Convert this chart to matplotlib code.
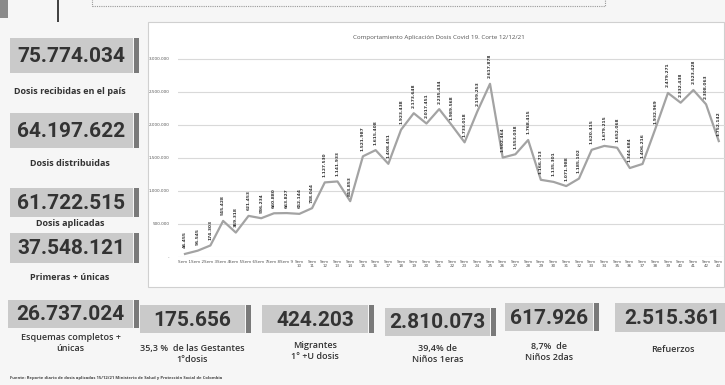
import matplotlib
matplotlib.use("Agg")
import matplotlib.pyplot as plt
from matplotlib.patches import Rectangle

# weekly applied doses
weeks = [f"Sem {i}" if i < 10 else f"Sem\n{i}" for i in range(1, 44)]
doses = [46455, 95545, 174303, 545428, 369318, 621453, 586234, 660880, 663827,
         652144, 738044, 1127530, 1141933, 843853, 1521987, 1615408, 1408451,
         1923438, 2173648, 2017451, 2235434, 1989568, 1733018, 2199253, 2617878,
         1502464, 1553038, 1768415, 1166713, 1135301, 1071988, 1185102, 1620415,
         1679215, 1652068, 1344684, 1406216, 1932969, 2479271, 2332438, 2523428,
         2308063, 1752142]
yticks = [0, 500000, 1000000, 1500000, 2000000, 2500000, 3000000]

# summary boxes
left_values = ["75.774.034", "64.197.622", "61.722.515", "37.548.121"]
left_labels = ["Dosis recibidas en el país", "Dosis distribuidas",
               "Dosis aplicadas", "Primeras + únicas"]
bottom_values = ["26.737.024", "175.656", "424.203", "2.810.073", "617.926", "2.515.361"]
bottom_labels = ["Esquemas completos +\núnicas", "35,3 %  de las Gestantes\n1°dosis",
                 "Migrantes\n1° +U dosis", "39,4% de\nNiños 1eras",
                 "8,7%  de\nNiños 2das", "Refuerzos"]
source = ("Fuente: Reporte diario de dosis aplicadas 15/12/21 Ministerio de Salud "
          "y Protección Social de Colombia")

W, H = 725, 385
fig = plt.figure(figsize=(W / 100, H / 100), dpi=100)
fig.patch.set_facecolor("#f6f6f6")

NUMFONT = ["Roboto", "DejaVu Sans"]
LBLFONT = ["Open Sans", "DejaVu Sans"]


def rect(x0, y0, x1, y1, **kw):
    fig.patches.append(Rectangle((x0 / W, 1 - y1 / H), (x1 - x0) / W, (y1 - y0) / H,
                                 transform=fig.transFigure, **kw))


def text(x, y, s, **kw):
    fig.text(x / W, 1 - y / H, s, **kw)


def stat_box(x0, y0, x1, y1, value, bar=True, size=15):
    rect(x0, y0, x1, y1, facecolor="#cacaca", edgecolor="none")
    if bar:
        rect(x1 + 1, y0, x1 + 6, y1, facecolor="#7a7a7a", edgecolor="none")
    text((x0 + x1) / 2, (y0 + y1) / 2 + 1, value, ha="center", va="center",
         fontsize=size, fontweight="bold", color="#333333", family=NUMFONT)


# top decorations
rect(0, 0, 8, 18, facecolor="#8a8a8a", edgecolor="none")
rect(57, 0, 59, 22, facecolor="#444444", edgecolor="none")
rect(92, -5, 605, 6, facecolor="none", edgecolor="#999999", linewidth=0.8, linestyle=(0, (1, 1)))

# left column
left_pos = [(38, 73, 92), (113, 148, 163), (188, 217, 224), (233, 263, 277)]
for (y0, y1, ly), v, lab in zip(left_pos, left_values, left_labels):
    stat_box(10, y0, 133, y1, v)
    text(70, ly, lab, ha="center", va="center", fontsize=6.5, fontweight="bold",
         color="#333333", family=LBLFONT)

# bottom row
bottom_pos = [(8, 133, 300, 328, 343), (140, 245, 305, 333, 354), (262, 368, 305, 333, 351),
              (385, 490, 308, 336, 354), (505, 593, 303, 331, 352), (615, 730, 303, 332, 350)]
for i, ((x0, x1, y0, y1, ly), v, lab) in enumerate(zip(bottom_pos, bottom_values, bottom_labels)):
    stat_box(x0, y0, x1, y1, v, bar=(i < 5))
    text((x0 + x1) / 2, ly, lab, ha="center", va="center", fontsize=6.5,
         fontweight="semibold", color="#333333", family=LBLFONT, linespacing=1.4)

text(10, 378, source, ha="left", va="center", fontsize=3, fontweight="bold", color="#444444",
     family=LBLFONT)

# chart panel
rect(148, 22, 724, 287, facecolor="white", edgecolor="#d0d0d0", linewidth=0.8, zorder=0)
ax = fig.add_axes([178 / W, 1 - 257 / H, (W - 178) / W, (257 - 40) / H])
ax.set_zorder(5)
ax.patch.set_alpha(0)
x = list(range(1, len(doses) + 1))
ax.plot(x, doses, color="#a3a3a3", linewidth=1.6, zorder=3)
for xi, v in zip(x, doses):
    ax.annotate(f"{v:,}".replace(",", "."), (xi, v), xytext=(0, 4), textcoords="offset points",
                rotation=90, ha="center", va="bottom", fontsize=3.2, fontweight="bold",
                color="#333333")
ax.set_xlim(0.45, 43.49)
ax.set_ylim(0, 3280000)
ax.set_yticks(yticks)
ax.set_yticklabels(["-"] + [f"{t:,}".replace(",", ".") for t in yticks[1:]])
ax.set_xticks(x)
ax.set_xticklabels(weeks)
ax.tick_params(axis="both", length=0, labelsize=3, labelcolor="#555555")
ax.tick_params(axis="y", pad=6)
ax.tick_params(axis="x", pad=2)
ax.grid(axis="y", color="#d9d9d9", linewidth=0.8)
ax.set_axisbelow(True)
for s in ax.spines.values():
    s.set_visible(False)
text(439, 37, "Comportamiento Aplicación Dosis Covid 19. Corte 12/12/21", ha="center",
     va="center", fontsize=4.5, color="#555555", family=LBLFONT, zorder=6)

fig.savefig("out.png", dpi=100, facecolor=fig.get_facecolor())
